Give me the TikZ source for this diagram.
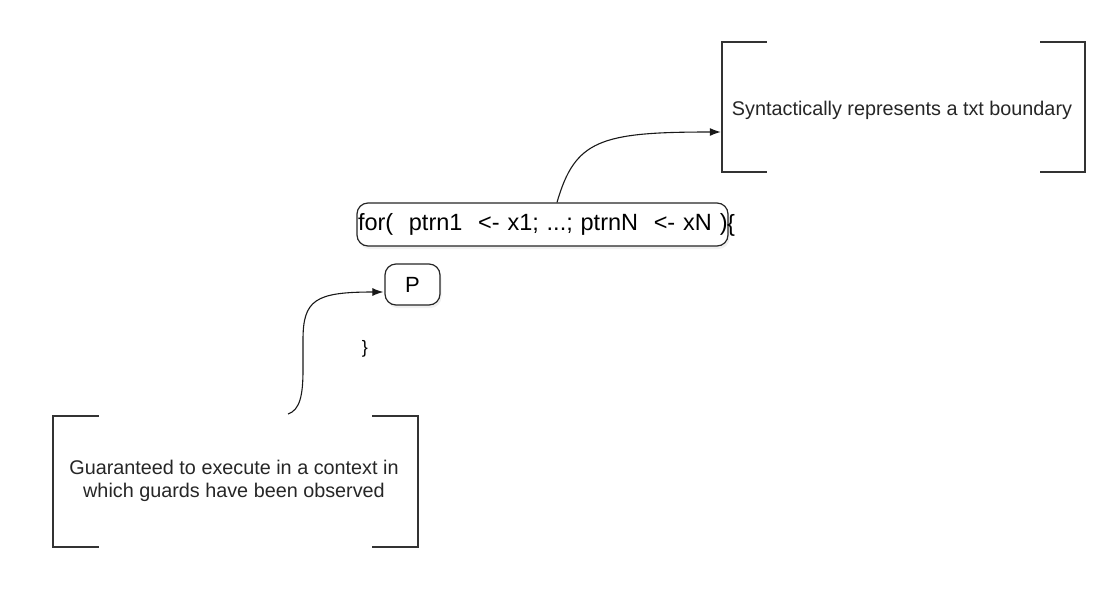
\documentclass[tikz,border=0pt]{standalone}
\usepackage{fontspec}
\setmainfont{Liberation Sans}
\usetikzlibrary{arrows.meta,shadows}
\begin{document}
\begin{tikzpicture}[x=1pt,y=-1pt,
  rbox/.style={draw=black!85, line width=1.2pt, rounded corners=11pt, fill=white,
    drop shadow={opacity=0.12, shadow xshift=1.5pt, shadow yshift=-3pt}},
  brk/.style={draw=black!80, line width=1.5pt},
  conn/.style={draw=black!90, line width=1.1pt, -{Latex[length=11pt,width=8pt]}},
  lbl/.style={inner sep=0pt, font=\fontsize{19.8}{23.5}\selectfont, text=black!85, align=center},
  frame/.style={inner sep=0pt}]
\useasboundingbox (0,0) rectangle (1116,592);
% for node
\node[rbox, minimum height=43pt, text width=369pt, inner xsep=1pt, inner ysep=0pt,
      align=left, font=\fontsize{23.5}{26}\selectfont] (for) at (542.5,224.5)
  {\mbox{for(\ \ ptrn1\ \ <-\ x1;\ ...;\ ptrnN\ \ <-\ xN\hspace{8pt})}};
\node[font=\fontsize{23.5}{26}\selectfont, inner sep=0pt] (brace) at (731,225) {\{};
% P node
\node[rbox, minimum width=55pt, minimum height=41pt, inner sep=0pt,
      font=\fontsize{22}{24}\selectfont] (P) at (412.5,284.5) {P};
\node[font=\fontsize{18}{20}\selectfont, inner sep=0pt] (cbrace) at (365,349) {\}};
% right bracket box
\node[frame, minimum width=363pt, minimum height=130pt] (bR) at (903.5,107) {};
\node[lbl] (tR) at (902,110) {Syntactically represents a txt boundary};
\draw[brk] ([xshift=45pt]bR.north west) -- (bR.north west) -- (bR.south west) -- ++(45,0);
\draw[brk] ([xshift=-45pt]bR.north east) -- (bR.north east) -- (bR.south east) -- ++(-45,0);
% left bracket box
\node[frame, minimum width=365pt, minimum height=131pt] (bL) at (235.5,481.5) {};
\node[lbl] (tL) at (234,481) {Guaranteed to execute in a context in\\which guards have been observed};
\draw[brk] ([xshift=46pt]bL.north west) -- (bL.north west) -- (bL.south west) -- ++(46,0);
\draw[brk] ([xshift=-46pt]bL.north east) -- (bL.north east) -- (bL.south east) -- ++(-46,0);
% connectors
\draw[conn] ([xshift=14.5pt]for.north) .. controls (575,140) and (600,132) .. ([yshift=-25pt,xshift=-1pt]bR.west);
\coordinate (s2) at (288,414);
\draw[conn] (s2) .. controls (300,410) and (303,395) .. (303,370) -- (303,340)
  .. controls (303,300) and (315,292) .. ([yshift=-7.5pt,xshift=-1pt]P.west);
\end{tikzpicture}
\end{document}
